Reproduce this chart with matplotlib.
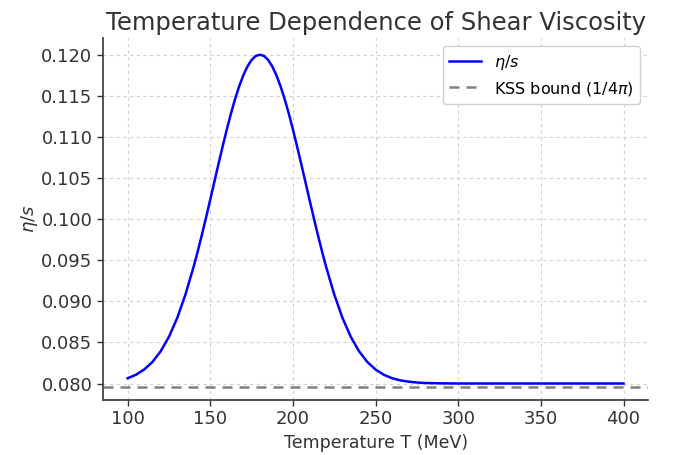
import matplotlib
matplotlib.use("Agg")
import matplotlib.pyplot as plt
import numpy as np

# Temperature (MeV) and eta/s values
T = [100, 105, 110, 115, 120, 125, 130, 135, 140, 142.5, 145, 147.5, 150, 152.5, 155, 157.5,
     160, 162.5, 165, 167.5, 170, 172.5, 175, 177.5, 180, 182.5, 185, 187.5, 190, 192.5,
     195, 197.5, 200, 202.5, 205, 207.5, 210, 212.5, 215, 217.5, 220, 225, 230, 235, 240,
     245, 250, 255, 260, 265, 270, 275, 280, 290, 300, 320, 340, 360, 380, 400]
eta_s = [0.08064, 0.08106, 0.08170, 0.08262, 0.08392, 0.08568, 0.08797, 0.09083, 0.09425,
         0.09614, 0.09815, 0.10024, 0.10238, 0.10456, 0.10673, 0.10885, 0.11090, 0.11283,
         0.11460, 0.11616, 0.11750, 0.11857, 0.11936, 0.11984, 0.12000, 0.11984, 0.11936,
         0.11857, 0.11750, 0.11616, 0.11460, 0.11283, 0.11090, 0.10885, 0.10673, 0.10456,
         0.10238, 0.10024, 0.09815, 0.09614, 0.09425, 0.09083, 0.08797, 0.08568, 0.08392,
         0.08262, 0.08170, 0.08106, 0.08064, 0.08038, 0.08022, 0.08012, 0.08006, 0.08002,
         0.08000, 0.08000, 0.08000, 0.08000, 0.08000, 0.08000]
kss_bound = 1 / (4 * np.pi)

plt.rcParams['font.family'] = ['DejaVu Sans']
fig = plt.figure(figsize=(6.81, 4.55), dpi=100)
ax = fig.add_axes([0.151, 0.121, 0.801, 0.795])

ax.plot(T, eta_s, color='#0000ff', lw=1.8, label=r'$\eta/s$')
ax.axhline(kss_bound, color='#808080', ls=(0, (4, 2.8)), lw=1.8,
           label=r'KSS bound ($1/4\pi$)')

ax.set_title('Temperature Dependence of Shear Viscosity', fontsize=17.5, color='#333333')
ax.set_xlabel('Temperature T (MeV)', fontsize=12.5, color='#333333')
ax.set_ylabel(r'$\eta/s$', fontsize=13, color='#333333', labelpad=1)

ax.set_yticks([0.080, 0.085, 0.090, 0.095, 0.100, 0.105, 0.110, 0.115, 0.120])
ax.set_xticks([100, 150, 200, 250, 300, 350, 400])
ax.yaxis.set_major_formatter(matplotlib.ticker.FormatStrFormatter('%.3f'))
ax.tick_params(labelsize=13, colors='#333333', direction='out', length=4, width=1)

ax.grid(True, ls=(0, (3, 3)), color='#d2d2d2', lw=0.8)
for s in ['top', 'right']:
    ax.spines[s].set_visible(False)
for s in ['left', 'bottom']:
    ax.spines[s].set_color('#444444')
    ax.spines[s].set_linewidth(1.3)

leg = ax.legend(loc='upper right', fontsize=11.5, framealpha=1, edgecolor='#d0d0d0')
leg.get_frame().set_linewidth(1)

fig.savefig('out.png', dpi=100)
